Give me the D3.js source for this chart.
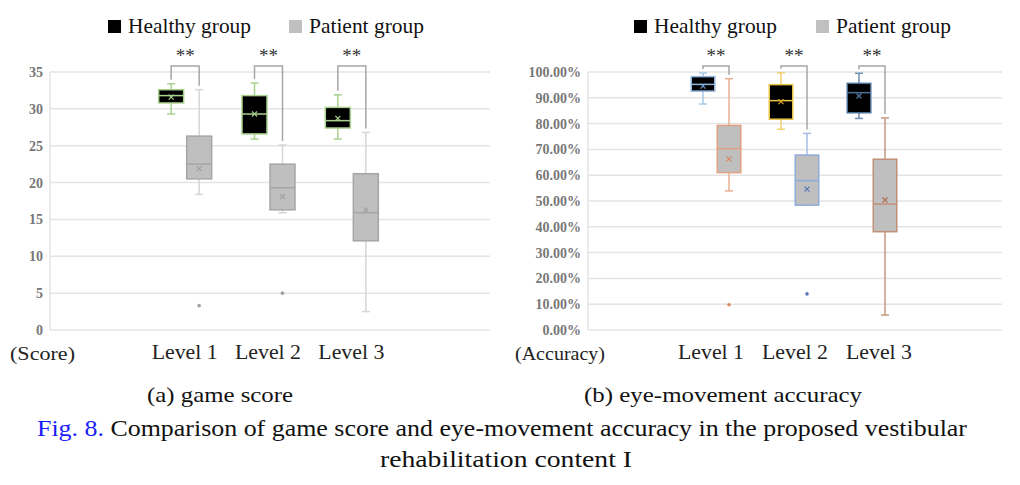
<!DOCTYPE html>
<html><head><meta charset="utf-8">
<script src="https://cdn.jsdelivr.net/npm/d3@7"></script>
<style>
body{margin:0;background:#fff;}
svg{display:block;}
text{font-family:"Liberation Serif","Times New Roman",serif;}
</style></head>
<body>
<svg id="c" width="1020" height="485"></svg>
<script>
// ---------- data ----------
const levels = ["Level 1", "Level 2", "Level 3"];
const groups = ["Healthy group", "Patient group"];
// [min, q1, median, q3, max, mean]
const scoreHealthy = [[29.3, 30.8, 31.8, 32.6, 33.4, 31.6], [25.9, 26.6, 29.3, 31.8, 33.5, 29.3], [25.9, 27.4, 28.4, 30.2, 31.9, 28.7]];
const scorePatient = [[18.4, 20.5, 22.5, 26.3, 32.6, 21.9], [15.9, 16.3, 19.3, 22.5, 25.1, 18.1], [2.5, 12.1, 15.9, 21.2, 26.8, 16.3]];
const scoreOutliersPatient = [[3.3], [5.0], []];
const accHealthy = [[0.876, 0.926, 0.952, 0.982, 0.996, 0.945], [0.778, 0.817, 0.889, 0.951, 0.997, 0.885], [0.820, 0.842, 0.920, 0.956, 0.995, 0.907]];
const accPatient = [[0.539, 0.610, 0.703, 0.793, 0.974, 0.663], [0.484, 0.484, 0.579, 0.678, 0.762, 0.546], [0.058, 0.381, 0.488, 0.662, 0.822, 0.504]];
const accOutliersPatient = [[0.098], [0.14], []];
const scoreTicks = [0, 5, 10, 15, 20, 25, 30, 35];
const accTicks = [0, 0.1, 0.2, 0.3, 0.4, 0.5, 0.6, 0.7, 0.8, 0.9, 1.0];
const sigLabel = "**";

const svg = d3.select("#c");

function fit(sel, len) {
  return sel.attr("textLength", len).attr("lengthAdjust", "spacingAndGlyphs");
}

function legend(x0, x1) {
  const g = svg.append("g");
  g.append("rect").attr("x", x0).attr("y", 20).attr("width", 13).attr("height", 13).attr("fill", "#000");
  fit(g.append("text").attr("x", x0 + 20).attr("y", 33).attr("font-size", 21).attr("fill", "#111").text(groups[0]), 123);
  g.append("rect").attr("x", x1).attr("y", 20).attr("width", 13).attr("height", 13).attr("fill", "#c0c0c0");
  fit(g.append("text").attr("x", x1 + 20).attr("y", 33).attr("font-size", 21).attr("fill", "#111").text(groups[1]), 115);
}

function chart(cfg) {
  const y = d3.scaleLinear().domain(cfg.domain).range([330, 72]);
  const x = d3.scaleBand().domain(levels).range(cfg.bandRange);
  const xl = d3.scaleBand().domain(levels).range(cfg.labelRange);
  const g = svg.append("g");
  // grid
  g.selectAll("line.grid").data(cfg.ticks).join("line")
    .attr("x1", cfg.left).attr("x2", cfg.right)
    .attr("y1", d => y(d)).attr("y2", d => y(d))
    .attr("stroke", "#e4e4e4").attr("stroke-width", 1.5);
  g.append("line").attr("x1", cfg.left).attr("x2", cfg.left).attr("y1", y(cfg.domain[1])).attr("y2", 330)
    .attr("stroke", "#e4e4e4").attr("stroke-width", 1.5);
  // y axis labels
  const ax = g.append("g").attr("transform", `translate(${cfg.left - 7},0)`)
    .call(d3.axisLeft(y).tickValues(cfg.ticks).tickFormat(cfg.fmt).tickSize(0).tickPadding(0));
  ax.select(".domain").remove();
  ax.selectAll("text").attr("font-family", "Liberation Serif").attr("font-weight", "bold")
    .attr("font-size", 14).attr("fill", "#777");
  // x labels
  const xa = g.append("g").attr("transform", `translate(0,344)`)
    .call(d3.axisBottom(xl).tickSize(0).tickPadding(0));
  xa.select(".domain").remove();
  xa.selectAll("text").attr("font-family", "Liberation Serif").attr("font-size", 20).attr("fill", "#222").attr("dy", "0.75em")
    .attr("textLength", 66).attr("lengthAdjust", "spacingAndGlyphs");
  fit(g.append("text").attr("x", cfg.unitX).attr("y", 360).attr("font-size", 19).attr("fill", "#222").text(cfg.unit), cfg.unitW);

  const bw = cfg.boxW;
  const series = [
    {data: cfg.healthy, off: -cfg.off, fill: "#000", stroke: cfg.hStroke, whisk: cfg.hWhisk, mean: cfg.hMean, outl: [[], [], []]},
    {data: cfg.patient, off: cfg.off, fill: "#bfbfbf", stroke: cfg.pStroke, whisk: cfg.pWhisk, mean: cfg.pMean, outl: cfg.outliers}
  ];
  series.forEach(s => {
    s.data.forEach((d, i) => {
      const cx = x(levels[i]) + x.bandwidth() / 2 + s.off;
      const [mn, q1, md, q3, mx, mean] = d;
      const sc = s.stroke[i], wc = s.whisk[i];
      g.append("line").attr("x1", cx).attr("x2", cx).attr("y1", y(mx)).attr("y2", y(q3)).attr("stroke", wc).attr("stroke-width", 1.5);
      g.append("line").attr("x1", cx).attr("x2", cx).attr("y1", y(q1)).attr("y2", y(mn)).attr("stroke", wc).attr("stroke-width", 1.5);
      [mx, mn].forEach(v => g.append("line").attr("x1", cx - 4).attr("x2", cx + 4).attr("y1", y(v)).attr("y2", y(v)).attr("stroke", wc).attr("stroke-width", 1.5));
      g.append("rect").attr("x", cx - bw / 2).attr("y", y(q3)).attr("width", bw).attr("height", y(q1) - y(q3))
        .attr("fill", s.fill).attr("stroke", sc).attr("stroke-width", 1.5);
      g.append("line").attr("x1", cx - bw / 2).attr("x2", cx + bw / 2).attr("y1", y(md)).attr("y2", y(md)).attr("stroke", sc).attr("stroke-width", 1.5);
      const m = y(mean), r = 2.5;
      g.append("path").attr("d", `M${cx - r},${m - r}L${cx + r},${m + r}M${cx - r},${m + r}L${cx + r},${m - r}`)
        .attr("stroke", s.mean[i]).attr("stroke-width", 1.2);
      s.outl[i].forEach(v => g.append("circle").attr("cx", cx).attr("cy", y(v)).attr("r", 1.8).attr("fill", s.mean[i]));
    });
  });
  // significance brackets
  levels.forEach((lv, i) => {
    const c = x(lv) + x.bandwidth() / 2;
    const bl = c - cfg.off, br = c + cfg.off;
    const top = 66;
    g.append("path").attr("d", `M${bl},${y(cfg.healthy[i][4]) - 4}V${top}H${br}V${y(cfg.patient[i][4]) - 4}`)
      .attr("fill", "none").attr("stroke", "#a6a6a6").attr("stroke-width", 1.5);
    g.append("text").attr("x", c).attr("y", 62).attr("text-anchor", "middle").attr("font-size", 19).attr("fill", "#333").text(sigLabel);
  });
}

legend(108, 289);
legend(634, 816);

chart({
  domain: [0, 35], ticks: scoreTicks, fmt: d3.format("d"), left: 50, right: 490,
  bandRange: [143.5, 393.5], labelRange: [143, 393], boxW: 25, off: 14,
  healthy: scoreHealthy, patient: scorePatient, outliers: scoreOutliersPatient,
  hStroke: ["#a9d18e", "#a9d18e", "#a9d18e"], hWhisk: ["#a9d18e", "#a9d18e", "#a9d18e"], hMean: ["#a9d18e", "#a9d18e", "#a9d18e"],
  pStroke: ["#a6a6a6", "#a6a6a6", "#a6a6a6"], pWhisk: ["#d6d6d6", "#d6d6d6", "#d6d6d6"], pMean: ["#a0a0a0", "#a0a0a0", "#a0a0a0"],
  unit: "(Score)", unitX: 10, unitW: 65
});

chart({
  domain: [0, 1], ticks: accTicks, fmt: d3.format(".2%"), left: 588, right: 1002,
  bandRange: [677, 911], labelRange: [669, 921], boxW: 23.5, off: 13,
  healthy: accHealthy, patient: accPatient, outliers: accOutliersPatient,
  hStroke: ["#8fb4dc", "#e8c54a", "#4d6f97"], hWhisk: ["#a8c8e8", "#f0d070", "#6f8fb5"], hMean: ["#6f9ccc", "#d9a520", "#5577a0"],
  pStroke: ["#e2a080", "#8faadc", "#c09078"], pWhisk: ["#e8b090", "#a9bde4", "#c89a80"], pMean: ["#d88a60", "#5a78b8", "#b07050"],
  unit: "(Accuracy)", unitX: 515, unitW: 90
});

// captions
fit(svg.append("text").attr("x", 147).attr("y", 402).attr("font-size", 22).attr("fill", "#111").text("(a) game score"), 146);
fit(svg.append("text").attr("x", 584).attr("y", 402).attr("font-size", 22).attr("fill", "#111").text("(b) eye-movement accuracy"), 278);
const cap = svg.append("text").attr("x", 37).attr("y", 436).attr("font-size", 24).attr("fill", "#111");
fit(cap, 930);
cap.append("tspan").attr("fill", "#1a1aff").text("Fig. 8.");
cap.append("tspan").text(" Comparison of game score and eye-movement accuracy in the proposed vestibular");
fit(svg.append("text").attr("x", 380).attr("y", 467).attr("font-size", 24).attr("fill", "#111").text("rehabilitation content I"), 252);
</script>
</body></html>
